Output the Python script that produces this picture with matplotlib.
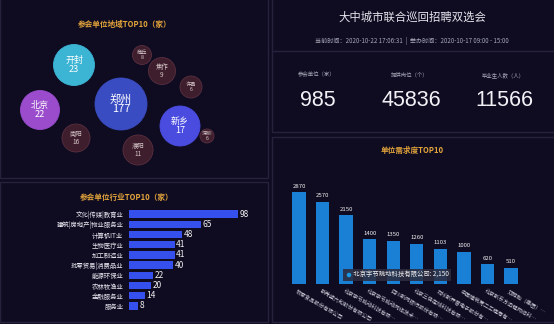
import matplotlib
matplotlib.use("Agg")
import matplotlib.pyplot as plt
from matplotlib.patches import Circle, Ellipse, Rectangle

plt.rcParams["font.family"] = ["Noto Sans CJK SC", "DejaVu Sans"]

# data
cities = ["郑州", "开封", "北京", "新乡", "南阳", "濮阳", "焦作", "商丘", "许昌", "深圳"]
city_counts = [177, 23, 22, 17, 16, 11, 9, 8, 6, 6]

industries = ["文化|传媒|教育业", "建筑|房地产|物业服务业", "计算机IT业", "生物医疗业", "加工制造业",
              "批零贸易|消费品业", "能源环保业", "农林牧渔业", "金融服务业", "服务业"]
industry_counts = [98, 65, 48, 41, 41, 40, 22, 20, 14, 8]

companies = ["牧原食品股份有限公司", "新希望六和股份有限公司", "北京字节跳动科技有限公司",
             "北京字节跳动网络技术有限公司", "四川新网银行股份有限公司", "北京三快在线科技有限公司",
             "郑州新开普电子股份有限公司", "中国建筑第二工程局有限公司", "北京新东方迅程网络科技有限公司",
             "双胞胎（集团）股份有限公司"]
company_demand = [2870, 2570, 2150, 1400, 1350, 1260, 1103, 1000, 620, 510]

stat_labels = ["参会单位（家）", "提供岗位（个）", "毕业生人数（人）"]
stat_values = [985, 45836, 11566]

# bubble layout (pixel centre, radius) and colours
bubble_xy = [(121, 104), (74, 65), (40, 110), (180, 126), (76, 138),
             (138, 150), (162, 71), (142, 55), (191, 87), (207, 136)]
bubble_r = [26, 20.5, 19.5, 20, 14, 15, 13.5, 9.5, 11, 7]
bubble_colors = ["#3a4cc2", "#3cb4d4", "#9a4ccc", "#4a4ce0"] + ["#3e1e2c"] * 6

BG = "#0f0c22"
EDGE = "#25233c"
GOLD = "#e2a33a"
W, H = 554, 324

fig = plt.figure(figsize=(W / 100, H / 100), dpi=100, facecolor=BG)
ov = fig.add_axes([0, 0, 1, 1])
ov.set_xlim(0, W)
ov.set_ylim(H, 0)
ov.axis("off")
ov.set_facecolor(BG)

# panel frames
for x0, y0, x1, y1 in [(0, -2, 268, 178), (0, 182, 268, 322), (272, -2, 556, 132), (272, 137, 556, 322)]:
    ov.add_patch(Rectangle((x0, y0), x1 - x0, y1 - y0, fill=False, ec=EDGE, lw=1.0))
ov.plot([272, 556], [51, 51], color=EDGE, lw=1.0)

# bubbles
ov.text(125, 24, "参会单位地域TOP10（家）", color=GOLD, fontsize=5.5, fontweight="bold", ha="center", va="center")
for name, val, (cx, cy), r, c in zip(cities, city_counts, bubble_xy, bubble_r, bubble_colors):
    small = r < 16
    ov.add_patch(Circle((cx, cy), r, fc=c, ec="#5a3040" if small else c, lw=0.6))
    fs = 8 if r > 24 else (6.5 if not small else (4.6 if r > 12 else 3.8))
    col = "#ffffff" if not small else "#d8c8cc"
    ov.text(cx, cy, f"{name}\n{val}", color=col, fontsize=fs, ha="center", va="center", linespacing=0.95)

# industry bars
ov.text(127, 197, "参会单位行业TOP10（家）", color=GOLD, fontsize=5.5, fontweight="bold", ha="center", va="center")
ax1 = fig.add_axes([129 / W, 1 - 311 / H, 131 / W, 102 / H])
ax1.set_facecolor("none")
ax1.barh(range(len(industries)), industry_counts, height=0.73, color="#3550ec")
ax1.set_xlim(0, 131 * 98 / 109)
ax1.set_ylim(9.5, -0.5)
ax1.set_yticks(range(len(industries)))
ax1.set_yticklabels(industries, color="#e8e8f0", fontsize=4.6)
ax1.tick_params(length=0, pad=4)
ax1.set_xticks([])
for s in ax1.spines.values():
    s.set_visible(False)
for i, v in enumerate(industry_counts):
    ax1.text(v + 1.5, i, str(v), color="#f0f0f0", fontsize=6, va="center", ha="left")

# header on the right
ov.text(412, 17, "大中城市联合巡回招聘双选会", color="#e6e6ee", fontsize=8.2, ha="center", va="center")
ov.text(412, 41, "当前时间：2020-10-22 17:06:31  |  举办时间：2020-10-17 09:00 - 15:00",
        color="#a8a8b8", fontsize=4.4, ha="center", va="center")
for xc, lab, val in zip([317, 410, 503], stat_labels, stat_values):
    ov.text(xc, 75, lab, color="#a8a8b8", fontsize=3.9, ha="center", va="center")
    ov.text(xc + 1, 101, str(val), color="#f2f2f6", fontsize=15.5, ha="center", va="center",
            family="Liberation Sans")

# company demand bars
ov.text(412, 150, "单位需求度TOP10", color=GOLD, fontsize=5.5, fontweight="bold", ha="center", va="center")
ax_left, ax_width = 287.2, 235.6
ax2 = fig.add_axes([ax_left / W, 1 - 284 / H, ax_width / W, 100 / H])
ax2.set_facecolor("none")
ax2.bar(range(len(companies)), company_demand, width=0.57, color="#1a80d6")
ax2.set_xlim(-0.5, 9.5)
ax2.set_ylim(0, 100 * 2870 / 92)
ax2.set_yticks([])
ax2.set_xticks([])
for s in ax2.spines.values():
    s.set_visible(False)
for i, v in enumerate(company_demand):
    ax2.annotate(str(v), (i, v), xytext=(0, 2.5), textcoords="offset points",
                 color="#f0f0f0", fontsize=4.3, ha="center", va="bottom")
    # shorten the rotated name so it stays inside the figure
    x_px = ax_left + (i + 0.5) * ax_width / 10
    room = int((W - 4 - x_px) / (5.4 * 0.866))
    cap = min(11, room)
    name = companies[i] if len(companies[i]) <= cap else companies[i][:cap - 1] + "…"
    ax2.annotate(name, (i, 0), xytext=(-1, -3), textcoords="offset points",
                 color="#c8c8d4", fontsize=3.9, ha="left", va="top", rotation=-30,
                 rotation_mode="anchor", annotation_clip=False)

# hover tooltip on the third bar, drawn above the bar axes
fig.text(345 / W, 1 - 275 / H, f"      {companies[2]}: {company_demand[2]:,}", color="#f0f0f0", fontsize=4.6,
         ha="left", va="center", zorder=9,
         bbox=dict(boxstyle="square,pad=0.35", fc="#2c2c40", ec="none", alpha=0.88))
fig.add_artist(Ellipse((349 / W, 1 - 275 / H), 4.5 / W, 4.5 / H, transform=fig.transFigure,
                       fc="#1a9ae6", ec="none", zorder=10))

fig.savefig("out.png", dpi=100, facecolor=BG)
